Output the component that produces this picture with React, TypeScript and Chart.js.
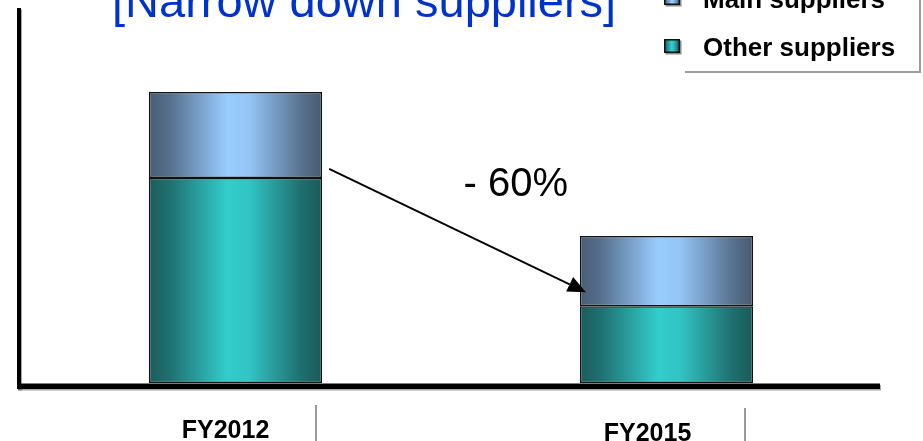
import React, { useEffect, useRef } from "react";
import { Chart, registerables } from "chart.js";

Chart.register(...registerables);

// Categories and stacked series (supplier counts, index units)
const categories = ["FY2012", "FY2015"];
const otherSuppliers = [54.7, 20.5];
const mainSuppliers = [22.9, 18.7];
const seriesNames = ["Other suppliers", "Main suppliers"];
const titleText = "[Narrow down suppliers]";
const changeLabel = "- 60%";
const yMax = 100;

const BAR_FRACTION = 0.402;
const FONT = "'Liberation Sans', Arial, Helvetica, sans-serif";

type Stop = [number, string];

const tealStops: Stop[] = [
  [0, "#1b5c5c"],
  [0.12, "#1f7070"],
  [0.45, "#33cccc"],
  [0.58, "#31c4c4"],
  [0.88, "#1f6f6f"],
  [1, "#1a5a5a"],
];

const blueStops: Stop[] = [
  [0, "#4a5d75"],
  [0.12, "#566f8c"],
  [0.45, "#99ccff"],
  [0.58, "#94c5f5"],
  [0.88, "#58728f"],
  [1, "#485a70"],
];

const stopsBySeries = [tealStops, blueStops];

function gradientAcross(
  ctx: CanvasRenderingContext2D,
  left: number,
  right: number,
  stops: Stop[]
) {
  const g = ctx.createLinearGradient(left, 0, right, 0);
  stops.forEach(([o, c]) => g.addColorStop(o, c));
  return g;
}

// Cylinder-style shading: each bar gets a horizontal gradient across its own width
const shadingPlugin = {
  id: "shading",
  beforeDatasetsDraw(chart: any) {
    chart.data.datasets.forEach((_: any, di: number) => {
      const meta = chart.getDatasetMeta(di);
      meta.data.forEach((bar: any) => {
        const { x, width } = bar.getProps(["x", "width"], true);
        if (!Number.isFinite(x) || !Number.isFinite(width)) return;
        const fill = gradientAcross(chart.ctx, x - width / 2, x + width / 2, stopsBySeries[di]);
        // options may be shared between bars of a dataset, so give each bar its own copy
        bar.options = Object.assign({}, bar.options, { backgroundColor: fill });
      });
    });
  },
};

const decorPlugin = {
  id: "decor",
  afterDraw(chart: any) {
    const ctx: CanvasRenderingContext2D = chart.ctx;
    const xs = chart.scales.x;
    const ys = chart.scales.y;
    const area = chart.chartArea;
    const half = ((xs.width / categories.length) * BAR_FRACTION) / 2;

    ctx.save();

    // Axis lines with a soft drop shadow
    ctx.save();
    ctx.shadowColor = "rgba(0,0,0,0.35)";
    ctx.shadowOffsetX = 1;
    ctx.shadowOffsetY = 1.5;
    ctx.fillStyle = "#000";
    ctx.fillRect(area.left - 3, area.top, 4, area.bottom - area.top + 6);
    ctx.fillRect(area.left - 3, area.bottom + 0.5, area.right - area.left + 1, 5.5);
    ctx.restore();

    // Title
    ctx.fillStyle = "#0033cc";
    ctx.font = `47px ${FONT}`;
    ctx.textAlign = "left";
    ctx.textBaseline = "alphabetic";
    ctx.fillText(titleText, 112, 17);

    // Legend (top series first)
    ctx.font = `bold 26px ${FONT}`;
    const order = [1, 0];
    order.forEach((di, row) => {
      const baseline = 8 + row * 48;
      const top = baseline - 17;
      ctx.save();
      ctx.shadowColor = "rgba(0,0,0,0.45)";
      ctx.shadowOffsetX = 1.5;
      ctx.shadowOffsetY = 1.5;
      ctx.fillStyle = gradientAcross(ctx, 664, 680, stopsBySeries[di]);
      ctx.fillRect(664, top, 16, 14);
      ctx.restore();
      ctx.strokeStyle = "#111";
      ctx.lineWidth = 1.5;
      ctx.strokeRect(664.75, top + 0.75, 14.5, 12.5);
      ctx.fillStyle = "#000";
      ctx.fillText(chart.data.datasets[di].label, 703, baseline);
    });
    ctx.strokeStyle = "#9c9c9c";
    ctx.lineWidth = 2;
    ctx.beginPath();
    ctx.moveTo(685, 72);
    ctx.lineTo(920, 72);
    ctx.lineTo(920, 0);
    ctx.stroke();

    // Category labels and separators
    ctx.fillStyle = "#000";
    ctx.font = `bold 25px ${FONT}`;
    ctx.textAlign = "center";
    const labelShift = [-10, -19];
    const labelBase = [438, 441];
    categories.forEach((c, i) => {
      ctx.fillText(c, xs.getPixelForValue(i) + labelShift[i], labelBase[i]);
    });
    ctx.strokeStyle = "#9a9a9a";
    ctx.lineWidth = 2;
    ctx.beginPath();
    ctx.moveTo(316, 405);
    ctx.lineTo(316, 441);
    ctx.moveTo(745, 408);
    ctx.lineTo(745, 441);
    ctx.stroke();

    // Change arrow between the two bars
    const x1 = xs.getPixelForValue(0) + half + 7;
    const y1 = ys.getPixelForValue(otherSuppliers[0]) - 9;
    const x2 = xs.getPixelForValue(1) - half + 6;
    const y2 = ys.getPixelForValue(otherSuppliers[1]) - 14;
    const ang = Math.atan2(y2 - y1, x2 - x1);
    const headLen = 18;
    const headHalf = 8;
    const bx = x2 - headLen * Math.cos(ang);
    const by = y2 - headLen * Math.sin(ang);
    ctx.strokeStyle = "#000";
    ctx.lineWidth = 1.8;
    ctx.beginPath();
    ctx.moveTo(x1, y1);
    ctx.lineTo(bx, by);
    ctx.stroke();
    ctx.fillStyle = "#000";
    ctx.beginPath();
    ctx.moveTo(x2, y2);
    ctx.lineTo(bx + headHalf * Math.sin(ang), by - headHalf * Math.cos(ang));
    ctx.lineTo(bx - headHalf * Math.sin(ang), by + headHalf * Math.cos(ang));
    ctx.closePath();
    ctx.fill();

    ctx.font = `40px ${FONT}`;
    ctx.textAlign = "left";
    ctx.fillText(changeLabel, (x1 + x2) / 2 + 6, y1 + 27);

    ctx.restore();
  },
};

export default function App() {
  const canvasRef = useRef<HTMLCanvasElement | null>(null);

  useEffect(() => {
    if (!canvasRef.current) return;
    const chart = new Chart(canvasRef.current, {
      type: "bar",
      data: {
        labels: categories,
        datasets: [
          {
            label: seriesNames[0],
            data: otherSuppliers,
            backgroundColor: tealStops[2][1],
            borderColor: "#111111",
            borderWidth: 1.5,
            borderSkipped: false,
          },
          {
            label: seriesNames[1],
            data: mainSuppliers,
            backgroundColor: blueStops[2][1],
            borderColor: "#111111",
            borderWidth: 1.5,
            borderSkipped: false,
          },
        ],
      },
      options: {
        responsive: false,
        animation: false,
        events: [],
        layout: { padding: { left: 20, right: 41, top: 8, bottom: 58 } },
        datasets: {
          bar: { categoryPercentage: 1, barPercentage: BAR_FRACTION },
        },
        plugins: {
          legend: { display: false },
          title: { display: false },
          tooltip: { enabled: false },
        },
        scales: {
          x: { stacked: true, display: false },
          y: { stacked: true, display: false, min: 0, max: yMax },
        },
      },
      plugins: [shadingPlugin, decorPlugin],
    });
    return () => chart.destroy();
  }, []);

  return (
    <div style={{ position: "absolute", left: 0, top: 0, width: 923, height: 441, background: "#fff" }}>
      <canvas ref={canvasRef} width={923} height={441} style={{ display: "block" }} />
    </div>
  );
}
